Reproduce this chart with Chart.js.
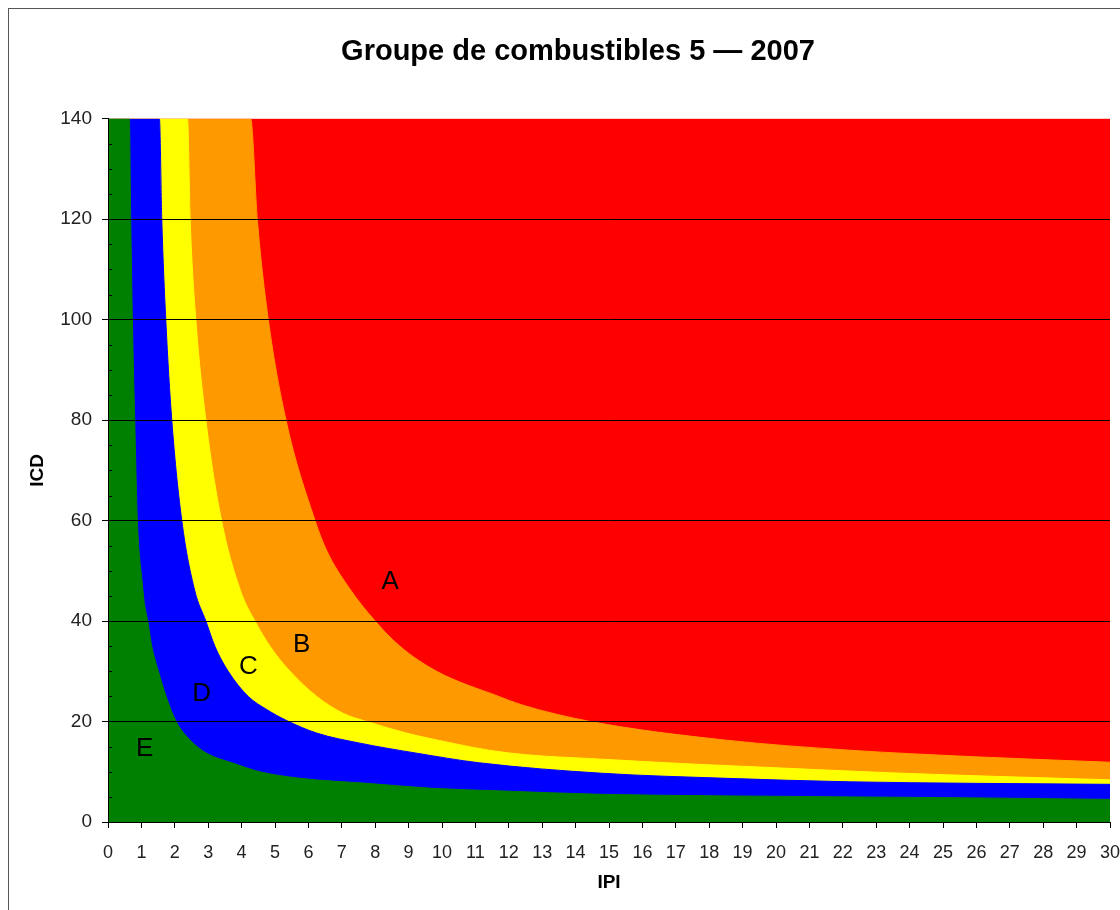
<!DOCTYPE html>
<html>
<head>
<meta charset="utf-8">
<script src="https://cdn.jsdelivr.net/npm/chart.js@4/dist/chart.umd.min.js"></script>
<style>
  html, body { margin: 0; padding: 0; background: #fff; overflow: hidden; }
  #wrap { position: relative; width: 1120px; height: 910px; }
  #frame { position: absolute; left: 8px; top: 8px; width: 1200px; height: 1000px; border: 1px solid #555; }
  #wrap canvas { position: absolute; left: 0; top: 0; }
</style>
</head>
<body>
<div id="wrap">
  <div id="frame"></div>
  <canvas id="zoneChart"></canvas>
</div>
<script>
(() => {
  // boundary curves [IPI, ICD]
  const limitE = [[0, 140], [0.64, 140], [0.68, 120], [0.73, 100], [0.80, 80], [0.88, 60], [1.02, 48],
    [1.08, 44], [1.19, 40], [1.31, 35], [1.51, 30], [1.74, 25], [2.04, 20], [2.46, 16.3], [2.95, 13.7],
    [3.75, 11.7], [4.55, 10.0], [5.75, 8.7], [7.75, 7.7], [9.73, 6.7], [11.7, 6.2], [14.8, 5.5],
    [18.5, 5.2], [22.2, 5.0], [26, 4.8], [30, 4.5]];
  const limitD = [[0, 140], [1.54, 140], [1.61, 120], [1.73, 100], [1.91, 80], [2.21, 60], [2.6, 46],
    [2.93, 40], [3.2, 35], [3.6, 30], [4.2, 25], [4.75, 22.4], [5.35, 20.2], [6.25, 17.7], [7.54, 15.7],
    [9.24, 13.7], [11.1, 11.8], [14.8, 9.7], [18.5, 8.7], [22.2, 8.0], [25.9, 7.7], [30, 7.5]];
  const limitC = [[0, 140], [2.38, 140], [2.46, 120], [2.63, 100], [2.93, 80], [3.40, 60], [3.97, 46],
    [4.40, 40], [4.85, 35], [5.45, 30], [6.25, 25], [7.05, 21.6], [7.75, 20], [8.94, 17.7], [10.3, 15.7],
    [11.4, 14.3], [12.5, 13.4], [14.8, 12.5], [17.3, 11.6], [20, 10.8], [23.4, 9.8], [26.5, 9.1], [30, 8.4]];
  const limitB = [[0, 140], [4.27, 140], [4.47, 120], [4.80, 100], [5.33, 80], [6.20, 60], [6.55, 54],
    [7.2, 46.8], [8.0, 40], [8.74, 35], [9.84, 30], [11.7, 25], [12.4, 23.3], [14.45, 20], [18.5, 16.3],
    [22.2, 14.3], [25.9, 13.0], [30, 11.9]];
  const limitA = [[0, 140], [30, 140]];

  const zoneNames = ["A", "B", "C", "D", "E"];
  const labelIPI = [8.45, 5.8, 4.2, 2.8, 1.1];
  const labelICD = [47.8, 35.3, 30.9, 25.5, 14.5];

  const FONT = "'Liberation Sans', Arial, sans-serif";

  function zone(data, color) {
    return {
      data, fill: "origin", backgroundColor: color, borderColor: color,
      borderWidth: 1, pointRadius: 0, cubicInterpolationMode: "monotone"
    };
  }

  // letters + small inside ticks on the ICD axis
  const extras = {
    id: "extras",
    afterDraw(chart) {
      const { ctx, scales: { x, y } } = chart;
      ctx.save();
      ctx.strokeStyle = "#000";
      ctx.lineWidth = 1;
      for (let v = 5; v < 140; v += 5) {
        if (v % 20 === 0) continue;
        const py = Math.round(y.getPixelForValue(v)) + 0.5;
        ctx.beginPath();
        ctx.moveTo(x.left, py);
        ctx.lineTo(x.left + 4, py);
        ctx.stroke();
      }
      ctx.fillStyle = "#000";
      ctx.font = "26px " + FONT;
      ctx.textAlign = "center";
      ctx.textBaseline = "middle";
      zoneNames.forEach((n, i) => {
        ctx.fillText(n, x.getPixelForValue(labelIPI[i]), y.getPixelForValue(labelICD[i]));
      });
      ctx.restore();
    }
  };

  new Chart(document.getElementById("zoneChart"), {
    type: "line",
    data: {
      datasets: [
        zone(limitE, "#008000"),
        zone(limitD, "#0000ff"),
        zone(limitC, "#ffff00"),
        zone(limitB, "#ff9900"),
        zone(limitA, "#ff0000")
      ]
    },
    options: {
      responsive: true,
      maintainAspectRatio: false,
      animation: false,
      events: [],
      layout: { padding: { left: 36, right: 0, top: 0, bottom: 0 } },
      plugins: {
        legend: { display: false },
        tooltip: { enabled: false },
        title: {
          display: true,
          text: "Groupe de combustibles 5 — 2007",
          color: "#000",
          font: { family: FONT, size: 29, weight: "bold" },
          padding: { top: 35, bottom: 49 }
        }
      },
      scales: {
        x: {
          type: "linear",
          min: 0, max: 30,
          afterFit: s => { s.height = 88; s.paddingRight = 10; },
          ticks: { stepSize: 1, autoSkip: false, maxRotation: 0, color: "#222", padding: 14,
            font: { family: FONT, size: 18 } },
          grid: { drawOnChartArea: false, tickLength: 6, tickColor: "#000" },
          border: { color: "#000", z: 1 },
          title: { display: true, text: "IPI", color: "#000",
            font: { family: FONT, size: 19, weight: "bold" }, padding: { top: 0, bottom: 15.6 } }
        },
        y: {
          min: 0, max: 140,
          afterFit: s => { s.width = 72; },
          ticks: { stepSize: 5, autoSkip: false, color: "#222", padding: 10,
            font: { family: FONT, size: 19 },
            callback: v => (v % 20 === 0 ? v : "") },
          grid: {
            z: 1, tickLength: 6,
            color: c => (c.tick && c.tick.value % 20 === 0 && c.tick.value > 0 && c.tick.value < 140 ? "#000" : "rgba(0,0,0,0)"),
            tickColor: c => (c.tick && c.tick.value % 20 === 0 ? "#000" : "rgba(0,0,0,0)")
          },
          border: { color: "#000", z: 1 },
          title: { display: true, text: "ICD", color: "#000",
            font: { family: FONT, size: 19, weight: "bold" }, padding: { top: -9.4, bottom: 0 } }
        }
      }
    },
    plugins: [extras]
  });
})();
</script>
</body>
</html>
